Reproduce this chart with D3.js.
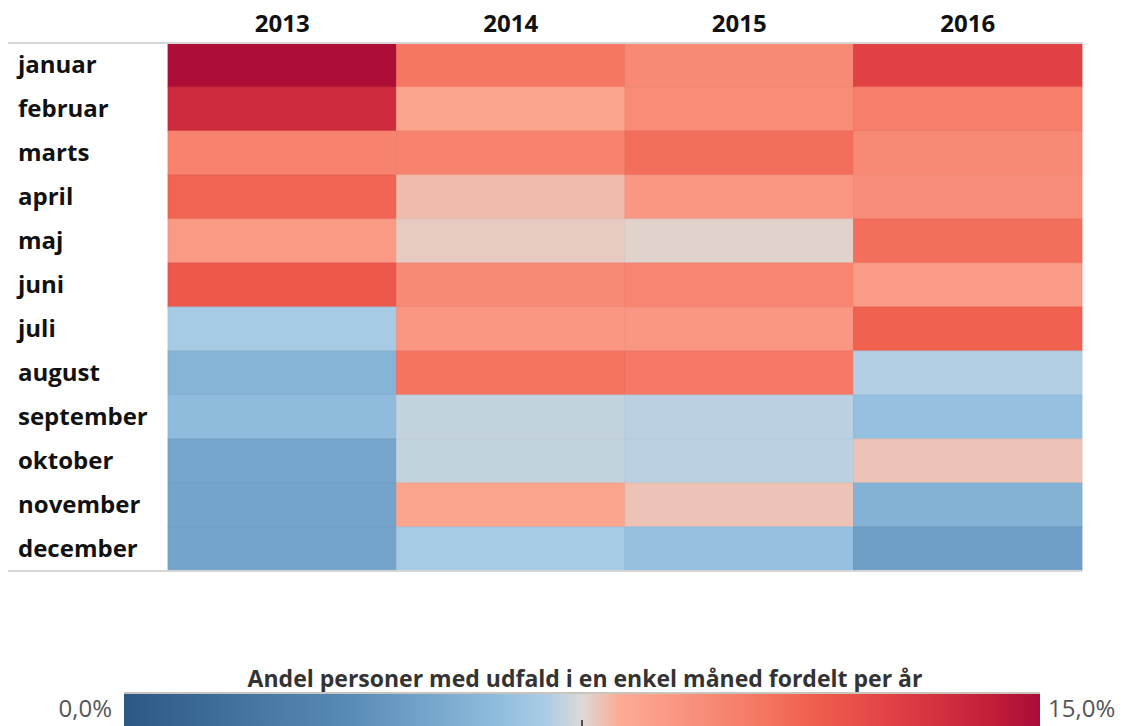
<!DOCTYPE html>
<html>
<head>
<meta charset="utf-8">
<script src="https://cdn.jsdelivr.net/npm/d3@7"></script>
<style>
  body { margin: 0; background: #fff; }
  svg text { font-family: "Open Sans", "DejaVu Sans", sans-serif; }
</style>
</head>
<body>
<div id="chart"></div>
<script>
// years (columns) and months (rows)
const years = ["2013", "2014", "2015", "2016"];
const months = ["januar", "februar", "marts", "april", "maj", "juni",
                "juli", "august", "september", "oktober", "november", "december"];

// share of persons (%) per month, one array per year
const values2013 = [14.9, 13.6, 9.9, 11.1, 8.9, 11.6, 6.8, 5.7, 6.1, 5.0, 4.9, 4.9];
const values2014 = [10.4, 8.4, 9.9, 7.9, 7.7, 9.6, 9.0, 10.5, 7.2, 7.2, 8.4, 6.8];
const values2015 = [9.6, 9.5, 10.7, 9.0, 7.6, 9.8, 9.0, 10.3, 7.1, 7.1, 7.8, 6.3];
const values2016 = [12.6, 10.1, 9.6, 9.4, 10.7, 8.8, 11.2, 7.0, 6.3, 7.8, 5.6, 4.7];

// colour legend
const legendTitle = "Andel personer med udfald i en enkel måned fordelt per år";
const legendRange = [0, 15];
const legendLabels = ["0,0%", "15,0%"];

// diverging palette stops (fraction of range -> colour)
const paletteStops = [0, 0.25, 0.4, 0.46, 0.5, 0.54, 0.68, 0.75, 0.85, 0.95, 1];
const paletteColors = ["#2c5885", "#5a8cb8", "#8cbadb", "#aacce6", "#dcd9d6",
                       "#fcac96", "#f67c68", "#f0604f", "#df3d44", "#c11d3a", "#a90c38"];

const allValues = [values2013, values2014, values2015, values2016];
let cells = [];
years.forEach(function(y, i) {
    months.forEach(function(m, j) {
        cells.push({year: y, month: m, value: allValues[i][j]});
    });
});

const W = 1130, H = 726;
let svg = d3.select("#chart").append("svg").attr("width", W).attr("height", H);

// grid area
let x = d3.scaleBand().domain(years).range([168, 1082]);
let y = d3.scaleBand().domain(months).range([43, 571]);

let color = d3.scaleLinear()
    .domain(paletteStops.map(function(s) { return legendRange[0] + s * (legendRange[1] - legendRange[0]); }))
    .range(paletteColors)
    .interpolate(d3.interpolateRgb)
    .clamp(true);

svg.append("g").selectAll("rect")
    .data(cells)
    .enter().append("rect")
    .attr("x", function(d) { return x(d.year); })
    .attr("y", function(d) { return y(d.month); })
    .attr("width", x.bandwidth())
    .attr("height", y.bandwidth())
    .attr("fill", function(d) { return color(d.value); })
    .attr("stroke", function(d) { return d3.color(color(d.value)).darker(0.12); })
    .attr("stroke-width", 0.8);

// header line and bottom line
[43, 571].forEach(function(yy) {
    svg.append("line")
        .attr("x1", 8).attr("x2", 1083)
        .attr("y1", yy).attr("y2", yy)
        .attr("stroke", "#d6d6d6").attr("stroke-width", 2);
});

// column headers
svg.append("g").selectAll("text")
    .data(years)
    .enter().append("text")
    .attr("x", function(d) { return x(d) + x.bandwidth() / 2; })
    .attr("y", 32)
    .attr("text-anchor", "middle")
    .style("font-size", "24px")
    .style("font-weight", 700)
    .attr("fill", "#111")
    .text(function(d) { return d; });

// row labels
svg.append("g").selectAll("text")
    .data(months)
    .enter().append("text")
    .attr("x", 18)
    .attr("y", function(d) { return y(d) + y.bandwidth() / 2 + 8; })
    .style("font-size", "24px")
    .style("font-weight", 700)
    .attr("fill", "#111")
    .text(function(d) { return d; });

// legend
let lx = d3.scaleLinear().domain(legendRange).range([124, 1040]);
let defs = svg.append("defs");
let grad = defs.append("linearGradient").attr("id", "legendGrad")
    .attr("x1", "0%").attr("x2", "100%").attr("y1", "0%").attr("y2", "0%");
paletteStops.forEach(function(s, i) {
    grad.append("stop").attr("offset", (s * 100) + "%").attr("stop-color", paletteColors[i]);
});

svg.append("text")
    .attr("x", (lx.range()[0] + lx.range()[1]) / 2 + 3)
    .attr("y", 687)
    .attr("text-anchor", "middle")
    .style("font-size", "23px")
    .style("font-weight", 700)
    .attr("fill", "#333")
    .text(legendTitle);

svg.append("rect")
    .attr("x", lx(legendRange[0]))
    .attr("y", 693)
    .attr("width", lx(legendRange[1]) - lx(legendRange[0]))
    .attr("height", 40)
    .attr("fill", "url(#legendGrad)");

svg.append("line")
    .attr("x1", lx(legendRange[0])).attr("x2", lx(legendRange[1]))
    .attr("y1", 693).attr("y2", 693)
    .attr("stroke", "#c9c5bd").attr("stroke-width", 2);

// centre tick
let mid = (legendRange[0] + legendRange[1]) / 2;
svg.append("line")
    .attr("x1", lx(mid)).attr("x2", lx(mid))
    .attr("y1", 720).attr("y2", 726)
    .attr("stroke", "#222").attr("stroke-width", 1.5);

svg.append("text")
    .attr("x", lx(legendRange[0]) - 12)
    .attr("y", 717)
    .attr("text-anchor", "end")
    .style("font-size", "24px")
    .attr("fill", "#555")
    .text(legendLabels[0]);

svg.append("text")
    .attr("x", lx(legendRange[1]) + 8)
    .attr("y", 717)
    .style("font-size", "24px")
    .attr("fill", "#555")
    .text(legendLabels[1]);
</script>
</body>
</html>
